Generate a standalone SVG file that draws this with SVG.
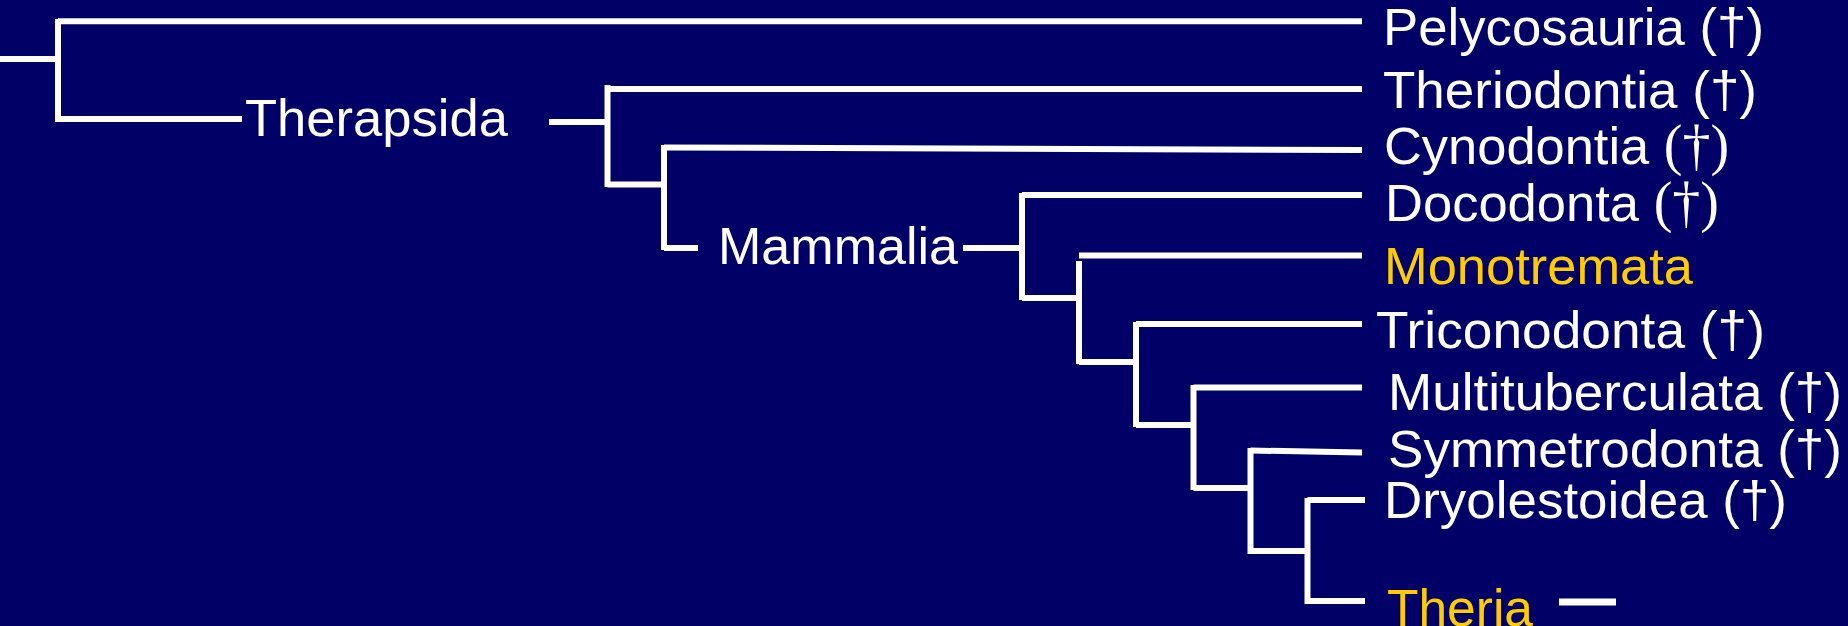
<svg xmlns="http://www.w3.org/2000/svg" width="1848" height="626" viewBox="0 0 1848 626">
  <style>
    .bg { fill: #000066; }
    .edge { stroke: #ffffff; stroke-width: 6; fill: none; stroke-linecap: butt; }
    .lbl { font-family: "Liberation Sans", Arial, sans-serif; font-size: 52.5px; fill: #ffffff; }
    .hl { fill: #ffcc00; }
    .serif { font-family: "Liberation Serif", "Times New Roman", serif; font-size: 56px; }
  </style>
  <rect class="bg" x="0" y="0" width="1848" height="626"/>

  <g id="connectors">
    <path class="edge" d="M0,59 H58"/>
    <path class="edge" d="M58,19 V122"/>
    <path class="edge" d="M58,21.3 H1362"/>
    <path class="edge" d="M58,119 H242"/>
    <path class="edge" d="M549,122 H608"/>
    <path class="edge" d="M607.5,85 V187"/>
    <path class="edge" d="M607.5,89 H1362"/>
    <path class="edge" d="M607.5,184.5 H664"/>
    <path class="edge" d="M664,145 V250"/>
    <path class="edge" d="M664,147.5 L1362,150"/>
    <path class="edge" d="M664,248 H698"/>
    <path class="edge" d="M963,248 H1022"/>
    <path class="edge" d="M1022,193 V300"/>
    <path class="edge" d="M1022,195 H1362"/>
    <path class="edge" d="M1022,298 H1079"/>
    <path class="edge" d="M1079,255.5 H1362"/>
    <path class="edge" d="M1079,261 V364"/>
    <path class="edge" d="M1079,362 H1136"/>
    <path class="edge" d="M1136,322 V427"/>
    <path class="edge" d="M1136,324 H1362"/>
    <path class="edge" d="M1136,425 H1193.5"/>
    <path class="edge" d="M1193.5,385 V490"/>
    <path class="edge" d="M1193.5,387.5 H1362"/>
    <path class="edge" d="M1193.5,488 H1250.5"/>
    <path class="edge" d="M1250.5,448 V554"/>
    <path class="edge" d="M1250.5,450.5 L1362,452.5"/>
    <path class="edge" d="M1250.5,551 H1308"/>
    <path class="edge" d="M1307.5,498 V604"/>
    <path class="edge" d="M1307.5,500 H1365"/>
    <path class="edge" d="M1307.5,601 H1365"/>
    <path class="edge" d="M1559,602 H1616" style="stroke-width:7"/>
  </g>

  <g id="node-therapsida">
    <text class="lbl" x="245" y="136" textLength="263" lengthAdjust="spacingAndGlyphs">Therapsida</text>
  </g>
  <g id="node-mammalia">
    <text class="lbl" x="718" y="264" textLength="240" lengthAdjust="spacingAndGlyphs">Mammalia</text>
  </g>
  <g id="node-pelycosauria">
    <text class="lbl" x="1383" y="45" textLength="381" lengthAdjust="spacingAndGlyphs">Pelycosauria (†)</text>
  </g>
  <g id="node-theriodontia">
    <text class="lbl" x="1383" y="108" textLength="374" lengthAdjust="spacingAndGlyphs">Theriodontia (†)</text>
  </g>
  <g id="node-cynodontia">
    <text class="lbl" x="1384" y="164" textLength="345" lengthAdjust="spacingAndGlyphs">Cynodontia <tspan class="serif">(†)</tspan></text>
  </g>
  <g id="node-docodonta">
    <text class="lbl" x="1385" y="221" textLength="334" lengthAdjust="spacingAndGlyphs">Docodonta <tspan class="serif">(†)</tspan></text>
  </g>
  <g id="node-monotremata">
    <text class="lbl hl" x="1384" y="284" textLength="309" lengthAdjust="spacingAndGlyphs">Monotremata</text>
  </g>
  <g id="node-triconodonta">
    <text class="lbl" x="1376" y="348" textLength="389" lengthAdjust="spacingAndGlyphs">Triconodonta (†)</text>
  </g>
  <g id="node-multituberculata">
    <text class="lbl" x="1388" y="410" textLength="454" lengthAdjust="spacingAndGlyphs">Multituberculata (†)</text>
  </g>
  <g id="node-symmetrodonta">
    <text class="lbl" x="1388" y="467" textLength="454" lengthAdjust="spacingAndGlyphs">Symmetrodonta (†)</text>
  </g>
  <g id="node-dryolestoidea">
    <text class="lbl" x="1384" y="518" textLength="403" lengthAdjust="spacingAndGlyphs">Dryolestoidea (†)</text>
  </g>
  <g id="node-theria">
    <text class="lbl hl" x="1387" y="626" textLength="146" lengthAdjust="spacingAndGlyphs">Theria</text>
  </g>
</svg>
